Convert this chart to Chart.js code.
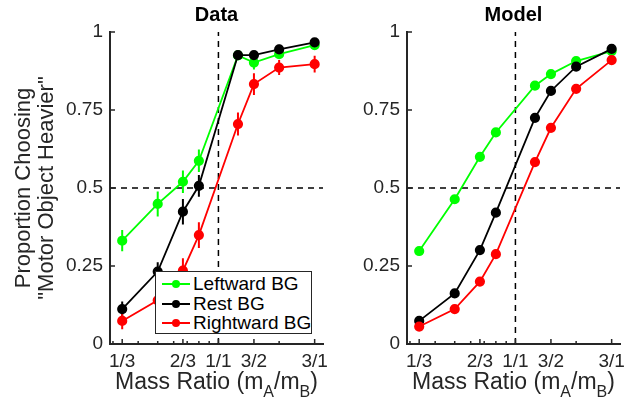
<!DOCTYPE html>
<html>
<head>
<meta charset="utf-8">
<script src="https://cdn.jsdelivr.net/npm/chart.js@4.4.0/dist/chart.umd.min.js"></script>
<style>
  html, body { margin: 0; padding: 0; background: #fff; }
  #wrap { position: relative; width: 627px; height: 402px; overflow: hidden;
          font-family: 'Liberation Sans', Arial, Helvetica, sans-serif; }
  canvas { position: absolute; top: 0; }
  #cData { left: 0; }
  #cModel { left: 330px; }
  .xtitle { position: absolute; top: 370px; font-size: 23px; line-height: 23px; color: #262626;
            text-align: center; white-space: nowrap; }
  .xtitle .sub { font-size: 16px; position: relative; top: 8px; }
  #legend { position: absolute; left: 155px; top: 271px; width: 155px; height: 61px;
            border: 1.5px solid #262626; background: #fff; font-size: 19px; color: #000; }
  #legend .row { position: absolute; left: 0; width: 100%; height: 20px; line-height: 20px; white-space: nowrap; }
  #legend .swatch { position: absolute; left: 6px; top: 9px; width: 28px; height: 2px; }
  #legend .dot { position: absolute; left: 16px; top: 6px; width: 8px; height: 8px; border-radius: 50%; }
  #legend .label { position: absolute; left: 37px; top: 0; }
</style>
</head>
<body>
<div id="wrap">
  <canvas id="cData" width="330" height="402"></canvas>
  <canvas id="cModel" width="297" height="402"></canvas>
  <div class="xtitle" style="left:110px;width:213px;">Mass Ratio (m<span class="sub">A</span>/m<span class="sub">B</span>)</div>
  <div class="xtitle" style="left:407px;width:213px;">Mass Ratio (m<span class="sub">A</span>/m<span class="sub">B</span>)</div>
  <div id="legend"></div>
</div>
<script>
// mass ratios where the conditions were tested
const massRatios = [1/3, 1/2, 2/3, 4/5, 5/4, 3/2, 2, 3];
const xTickValues = [1/3, 2/3, 1, 3/2, 3];
const xTickLabels = ['1/3', '2/3', '1/1', '3/2', '3/1'];
const xMinorTicks = [0.3, 0.4, 0.5, 0.6, 0.7, 0.8, 0.9, 2, 3];
const yTickValues = [0, 0.25, 0.5, 0.75, 1];

const seriesNames = ['Leftward BG', 'Rest BG', 'Rightward BG'];
const seriesColors = ['#00ff00', '#000000', '#ff0000'];

// Data panel
const dataLeftward  = [0.331, 0.449, 0.520, 0.587, 0.925, 0.902, 0.929, 0.958];
const dataRest      = [0.112, 0.232, 0.424, 0.507, 0.926, 0.926, 0.944, 0.967];
const dataRightward = [0.074, 0.140, 0.235, 0.349, 0.705, 0.833, 0.886, 0.897];
const errLeftward   = [0.034, 0.040, 0.036, 0.036, 0.012, 0.022, 0.015, 0.012];
const errRest       = [0.024, 0.030, 0.041, 0.035, 0.012, 0.012, 0.015, 0.012];
const errRightward  = [0.027, 0.030, 0.040, 0.041, 0.037, 0.035, 0.024, 0.027];

// Model panel
const modelLeftward  = [0.298, 0.464, 0.600, 0.678, 0.828, 0.865, 0.907, 0.939];
const modelRest      = [0.074, 0.162, 0.301, 0.421, 0.725, 0.811, 0.889, 0.946];
const modelRightward = [0.056, 0.112, 0.200, 0.288, 0.583, 0.693, 0.818, 0.910];

const FONT = "'Liberation Sans', Arial, Helvetica, sans-serif";
const AXIS = '#262626';

const extras = {
    id: 'extras',
    beforeDatasetsDraw(chart, args, opts) {
        const { ctx, chartArea: a, scales: { x, y } } = chart;
        ctx.save();
        // dashed guide lines at 0.5 and 1/1
        ctx.strokeStyle = '#000';
        ctx.lineWidth = 1.5;
        ctx.setLineDash([6, 5]);
        ctx.beginPath();
        ctx.moveTo(a.left, y.getPixelForValue(0.5));
        ctx.lineTo(a.right, y.getPixelForValue(0.5));
        ctx.moveTo(x.getPixelForValue(1), y.getPixelForValue(0));
        ctx.lineTo(x.getPixelForValue(1), y.getPixelForValue(1));
        ctx.stroke();
        ctx.setLineDash([]);

        // error bars
        const errs = opts.errors || [];
        errs.forEach((e, i) => {
            const ds = chart.data.datasets[i];
            ctx.strokeStyle = ds.borderColor;
            ctx.lineWidth = 2;
            ctx.beginPath();
            ds.data.forEach((p, j) => {
                const px = x.getPixelForValue(p.x);
                ctx.moveTo(px, y.getPixelForValue(p.y - e[j]));
                ctx.lineTo(px, y.getPixelForValue(p.y + e[j]));
            });
            ctx.stroke();
        });
        ctx.restore();
    },
    afterDraw(chart) {
        const { ctx, chartArea: a, scales: { x, y } } = chart;
        ctx.save();
        ctx.strokeStyle = AXIS;
        ctx.lineWidth = 1.5;
        ctx.beginPath();
        yTickValues.forEach(v => {
            const py = y.getPixelForValue(v);
            ctx.moveTo(a.left, py);
            ctx.lineTo(a.left + 5, py);
        });
        xTickValues.forEach(v => {
            const px = x.getPixelForValue(v);
            ctx.moveTo(px, a.bottom);
            ctx.lineTo(px, a.bottom - 5);
        });
        xMinorTicks.forEach(v => {
            const px = x.getPixelForValue(v);
            ctx.moveTo(px, a.bottom);
            ctx.lineTo(px, a.bottom - 3);
        });
        ctx.stroke();
        ctx.restore();
    }
};

function makeDatasets(values) {
    return values.map((vals, i) => ({
        label: seriesNames[i],
        data: massRatios.map((m, j) => ({ x: m, y: vals[j] })),
        borderColor: seriesColors[i],
        backgroundColor: seriesColors[i],
        borderWidth: 1.8,
        pointRadius: 4.2,
        pointHoverRadius: 4.2,
        tension: 0,
        order: 3 - i
    }));
}

function makeChart(id, title, values, errors, yWidth, yTitle) {
    return new Chart(document.getElementById(id), {
        type: 'line',
        data: { datasets: makeDatasets(values) },
        plugins: [extras],
        options: {
            responsive: false,
            animation: false,
            events: [],
            layout: { padding: { left: 0, right: 7, top: 0, bottom: 0 } },
            plugins: {
                legend: { display: false },
                tooltip: { enabled: false },
                title: {
                    display: true,
                    text: title,
                    fullSize: false,
                    color: '#000',
                    font: { family: FONT, size: 20, weight: 'bold', lineHeight: 1.2 },
                    padding: { top: 3.5, bottom: 4.5 }
                },
                extras: { errors: errors }
            },
            scales: {
                x: {
                    type: 'logarithmic',
                    min: 0.29,
                    max: 3.3,
                    afterBuildTicks: (scale) => {
                        scale.ticks = xTickValues.map(v => ({ value: v }));
                    },
                    afterFit: (scale) => {
                        scale.height = 58;
                        scale.paddingLeft = 0;
                        scale.paddingRight = 0;
                    },
                    grid: { display: false, drawTicks: false },
                    border: { display: true, color: AXIS, width: 2 },
                    ticks: {
                        autoSkip: false,
                        maxRotation: 0,
                        padding: 6,
                        color: AXIS,
                        font: { family: FONT, size: 19 },
                        callback: (v, i) => xTickLabels[i]
                    }
                },
                y: {
                    min: 0,
                    max: 1,
                    afterBuildTicks: (scale) => {
                        scale.ticks = yTickValues.map(v => ({ value: v }));
                    },
                    afterFit: (scale) => { scale.width = yWidth; },
                    grid: { display: false, drawTicks: false },
                    border: { display: true, color: AXIS, width: 2 },
                    ticks: {
                        padding: 7,
                        color: AXIS,
                        font: { family: FONT, size: 19 },
                        callback: (v) => String(v)
                    },
                    title: {
                        display: !!yTitle,
                        text: yTitle || '',
                        color: AXIS,
                        font: { family: FONT, size: 22, lineHeight: 1.05 },
                        padding: { top: 12, bottom: 0 }
                    }
                }
            }
        }
    });
}

makeChart('cData', 'Data',
    [dataLeftward, dataRest, dataRightward],
    [errLeftward, errRest, errRightward],
    110, ['Proportion Choosing', '"Motor Object Heavier"']);

makeChart('cModel', 'Model',
    [modelLeftward, modelRest, modelRightward],
    null, 77, null);

// legend box inside the Data panel
const legend = document.getElementById('legend');
seriesNames.forEach((name, i) => {
    const row = document.createElement('div');
    row.className = 'row';
    row.style.top = (2 + i * 19.5) + 'px';
    row.innerHTML = '<div class="swatch" style="background:' + seriesColors[i] + '"></div>' +
        '<div class="dot" style="background:' + seriesColors[i] + '"></div>' +
        '<div class="label">' + name + '</div>';
    legend.appendChild(row);
});
</script>
</body>
</html>
